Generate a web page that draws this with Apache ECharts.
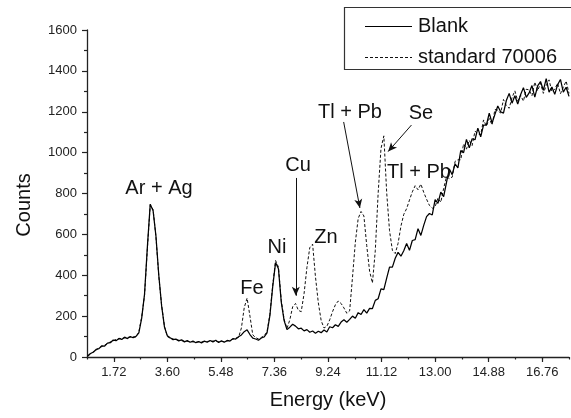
<!DOCTYPE html>
<html>
<head>
<meta charset="utf-8">
<script src="https://cdn.jsdelivr.net/npm/echarts@6/dist/echarts.min.js"></script>
<style>
  html, body { margin: 0; padding: 0; background: #fff; }
  #chart { width: 571px; height: 418px; }
</style>
</head>
<body>
<div id="chart"></div>
<script>
// spectrum channels: first energy and step (keV)
const energyStart = 0.8;
const energyStep = 0.1;

// counts, one value per 0.1 keV from 0.8 to 17.7 keV
const blank = [
  4, 17, 23, 37, 41, 55, 53, 68, 70, 83,
  80, 91, 86, 97, 90, 100, 94, 101, 118, 190,
  308, 540, 748, 716, 592, 400, 250, 146, 104, 94,
  85, 88, 79, 84, 74, 80, 72, 78, 70, 76,
  69, 78, 72, 81, 74, 82, 71, 79, 72, 81,
  78, 90, 88, 99, 108, 124, 133, 110, 92, 88,
  82, 93, 98, 118, 202, 345, 462, 432, 268, 178,
  134, 146, 160, 151, 138, 141, 128, 134, 121, 127,
  116, 126, 119, 132, 122, 148, 143, 158, 150, 171,
  182, 170, 184, 200, 190, 217, 208, 232, 215, 238,
  237, 277, 285, 333, 330, 386, 440, 440, 483, 512,
  493, 520, 555, 522, 570, 574, 628, 595, 644, 687,
  702, 695, 770, 752, 807, 785, 855, 920, 892, 945,
  925, 1010, 1000, 1065, 1023, 1068, 1063, 1120, 1077, 1135,
  1134, 1193, 1145, 1187, 1228, 1200, 1193, 1255, 1290, 1242,
  1278, 1238, 1283, 1318, 1270, 1292, 1328, 1272, 1327, 1348,
  1305, 1362, 1296, 1321, 1285, 1332, 1358, 1296, 1320, 1275
];

const standard = [
  6, 14, 26, 34, 45, 51, 58, 66, 74, 79,
  86, 88, 92, 93, 96, 97, 99, 98, 122, 196,
  302, 532, 744, 722, 588, 396, 252, 150, 100, 92,
  88, 84, 82, 80, 77, 76, 75, 74, 73, 73,
  74, 75, 76, 77, 78, 77, 75, 76, 75, 78,
  82, 87, 92, 96, 142, 242, 288, 200, 108, 95,
  88, 96, 104, 124, 208, 352, 472, 440, 276, 184,
  140, 182, 246, 262, 228, 222, 310, 438, 535, 552,
  392, 266, 178, 142, 150, 182, 222, 256, 274, 262,
  240, 214, 226, 390, 562, 678, 712, 690, 545, 420,
  362, 520, 800, 1020, 1082, 805, 618, 522, 506, 556,
  640, 698, 726, 768, 808, 838, 818, 846, 806, 772,
  742, 728, 735, 778, 757, 825, 882, 873, 880, 957,
  965, 965, 1043, 1017, 1060, 1035, 1105, 1092, 1087, 1160,
  1130, 1167, 1135, 1211, 1208, 1193, 1260, 1230, 1217, 1270,
  1302, 1253, 1281, 1252, 1310, 1307, 1278, 1345, 1303, 1340,
  1290, 1328, 1356, 1298, 1310, 1340, 1288, 1320, 1350, 1290
];

const xTickLabels = [1.72, 3.60, 5.48, 7.36, 9.24, 11.12, 13.00, 14.88, 16.76];
const seriesNames = ['Blank', 'standard 70006'];

// peak labels [text, pixel x, pixel y]
const peakLabels = [
  ['Ar + Ag', 159, 188],
  ['Fe', 252, 288],
  ['Ni', 277, 247],
  ['Cu', 298, 165],
  ['Zn', 326, 237],
  ['Tl + Pb', 350, 112],
  ['Se', 421, 113],
  ['Tl + Pb', 419, 172]
];

// arrows from label to peak: [from keV, from counts, to keV, to counts]
const arrows = [
  [8.11, 876, 8.11, 300],
  [9.79, 1150, 10.36, 729],
  [12.17, 1135, 11.35, 1005]
];

const FONT = "'Liberation Sans', Arial, Helvetica, sans-serif";

function toPoints(values) {
  return values.map((v, i) => [+(energyStart + i * energyStep).toFixed(2), v]);
}

const chart = echarts.init(document.getElementById('chart'), null, { renderer: 'canvas' });

const gridBox = { left: 87, right: 2, top: 30, bottom: 61 };

const option = {
  animation: false,
  backgroundColor: '#fff',
  textStyle: { fontFamily: FONT },
  grid: [
    Object.assign({ outerBoundsMode: 'none' }, gridBox),
    Object.assign({ outerBoundsMode: 'none' }, gridBox)
  ],
  xAxis: [
    {
      type: 'value',
      gridIndex: 0,
      min: 0.78,
      max: 17.70,
      interval: 0.94,
      splitLine: { show: false },
      axisLine: { lineStyle: { color: '#222', width: 1.3 } },
      axisTick: { length: 2.5, lineStyle: { color: '#222', width: 1.2 } },
      axisLabel: {
        margin: 9,
        fontSize: 13,
        color: '#222',
        fontFamily: FONT,
        formatter: function (v) {
          return xTickLabels.some(t => Math.abs(t - v) < 1e-6) ? v.toFixed(2) : '';
        }
      }
    },
    {
      // longer ticks under the labelled values
      type: 'value',
      gridIndex: 1,
      min: 0.78,
      max: 17.70,
      interval: 0.94,
      splitLine: { show: false },
      axisLine: { show: false },
      axisTick: { length: 5, customValues: xTickLabels, lineStyle: { color: '#222', width: 1.2 } },
      axisLabel: { show: false }
    }
  ],
  yAxis: [
    {
      type: 'value',
      gridIndex: 0,
      min: 0,
      max: 1600,
      interval: 200,
      splitLine: { show: false },
      axisLine: { show: true, lineStyle: { color: '#222', width: 1.3 } },
      axisTick: { show: true, length: 5, lineStyle: { color: '#222', width: 1.2 } },
      minorTick: { show: true, splitNumber: 2, length: 3, lineStyle: { color: '#222', width: 1.2 } },
      axisLabel: {
        margin: 10, fontSize: 13, color: '#222', fontFamily: FONT,
        formatter: v => String(v)
      }
    },
    {
      type: 'value',
      gridIndex: 1,
      min: 0,
      max: 1600,
      show: false
    }
  ],
  series: [
    {
      name: seriesNames[1],
      type: 'line',
      xAxisIndex: 0,
      yAxisIndex: 0,
      symbol: 'none',
      showSymbol: false,
      color: '#111',
      lineStyle: { color: '#111', width: 1, type: [3, 2] },
      data: toPoints(standard),
      z: 2
    },
    {
      name: seriesNames[0],
      type: 'line',
      xAxisIndex: 0,
      yAxisIndex: 0,
      symbol: 'none',
      showSymbol: false,
      color: '#000',
      lineStyle: { color: '#000', width: 1.25 },
      data: toPoints(blank),
      z: 3,
      markLine: {
        silent: true,
        animation: false,
        symbol: ['none', 'arrow'],
        symbolSize: [6, 9],
        label: { show: false },
        lineStyle: { color: '#111', type: 'solid', width: 1 },
        data: arrows.map(a => [{ coord: [a[0], a[1]] }, { coord: [a[2], a[3]] }])
      }
    }
  ],
  graphic: [
    // legend frame and entries
    {
      type: 'rect',
      shape: { x: 344.5, y: 7.5, width: 240, height: 62 },
      style: { fill: '#fff', stroke: '#333', lineWidth: 1.2 },
      silent: true,
      z: 10
    },
    {
      type: 'line',
      shape: { x1: 365, y1: 26.5, x2: 412, y2: 26.5 },
      style: { stroke: '#000', lineWidth: 1 },
      z: 11
    },
    {
      type: 'line',
      shape: { x1: 365, y1: 57.5, x2: 412, y2: 57.5 },
      style: { stroke: '#111', lineWidth: 1, lineDash: [3, 2] },
      z: 11
    },
    {
      type: 'text', x: 418, y: 26, z: 11,
      style: { text: seriesNames[0], align: 'left', verticalAlign: 'middle', fontSize: 20, fontFamily: FONT, fill: '#111' }
    },
    {
      type: 'text', x: 418, y: 57, z: 11,
      style: { text: seriesNames[1], align: 'left', verticalAlign: 'middle', fontSize: 20, fontFamily: FONT, fill: '#111' }
    },
    // axis titles
    {
      type: 'text',
      x: 24,
      y: 205,
      rotation: Math.PI / 2,
      style: { text: 'Counts', align: 'center', verticalAlign: 'middle', fontSize: 20, fontFamily: FONT, fill: '#111' }
    },
    {
      type: 'text',
      x: 328,
      y: 400,
      style: { text: 'Energy (keV)', align: 'center', verticalAlign: 'middle', fontSize: 20, fontFamily: FONT, fill: '#111' }
    }
  ].concat(peakLabels.map(p => ({
    type: 'text',
    x: p[1],
    y: p[2],
    z: 20,
    style: { text: p[0], align: 'center', verticalAlign: 'middle', fontSize: 20, fontFamily: FONT, fill: '#111' }
  })))
};

chart.setOption(option);
</script>
</body>
</html>
